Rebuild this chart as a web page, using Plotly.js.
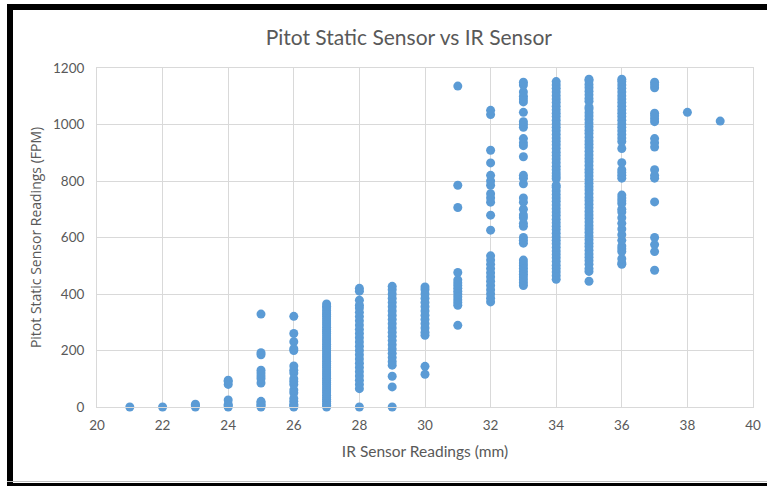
<!DOCTYPE html>
<html>
<head>
<meta charset="utf-8">
<script src="https://cdn.plot.ly/plotly-3.0.1.min.js"></script>
<style>
  html, body { margin: 0; padding: 0; background: #ffffff; }
  #wrap { position: relative; width: 767px; height: 486px; overflow: hidden; }
  #chart { position: absolute; left: 0; top: 0; width: 767px; height: 486px; }
  .bar { position: absolute; background: #000; pointer-events: none; }
</style>
</head>
<body>
<div id="wrap">
  <div id="chart"></div>
  <div class="bar" style="left:7px; top:4px; width:760px; height:6px;"></div>
  <div class="bar" style="left:7px; top:4px; width:6px; height:482px;"></div>
  <div class="bar" style="left:7px; top:481px; width:760px; height:1px; background:#bdbdbd;"></div>
  <div class="bar" style="left:7px; top:483px; width:760px; height:3px;"></div>
</div>
<script>
// IR sensor readings (mm) with the Pitot static readings (FPM) observed at each
const irReadings = [21, 22, 23, 24, 25, 26, 27, 28, 29, 30, 31, 32, 33, 34, 35, 36, 37, 38, 39];

const pitot21 = [0];
const pitot22 = [0];
const pitot23 = [0, 5, 10];
const pitot24 = [0, 5, 10, 25, 80, 90, 95];
const pitot25 = [0, 5, 10, 15, 20, 85, 100, 110, 120, 130, 185, 192, 329];
const pitot26 = [0, 5, 10, 20, 30, 50, 60, 80, 90, 100, 120, 130, 145, 200, 206, 231, 260, 321];
const pitot27 = [0, 6, 12, 20, 27, 34, 42, 50, 57, 64, 72, 80, 87, 94, 102, 110, 117, 124, 132, 140,
                 147, 154, 162, 170, 177, 184, 192, 200, 207, 214, 222, 230, 237, 244, 252, 260, 267,
                 274, 282, 290, 297, 304, 312, 320, 327, 334, 342, 350, 357, 365];
const pitot28 = [0, 65, 80, 95, 110, 125, 140, 155, 170, 185, 200, 215, 230, 245, 260, 275, 290, 305,
                 320, 335, 350, 360, 378, 410, 420];
const pitot29 = [0, 71, 109, 148, 160, 175, 190, 205, 220, 235, 250, 265, 280, 295, 310, 325, 340, 355,
                 370, 385, 400, 415, 427];
const pitot30 = [116, 144, 254, 265, 280, 295, 310, 325, 340, 355, 370, 385, 400, 415, 425];
const pitot31 = [289, 360, 370, 380, 390, 400, 410, 420, 430, 440, 450, 476, 706, 785, 1136];
const pitot32 = [372, 385, 400, 415, 430, 445, 460, 475, 490, 505, 520, 535, 626, 679, 725, 740, 755,
                 785, 800, 820, 864, 909, 1035, 1050];
const pitot33 = [430, 440, 450, 460, 470, 480, 490, 500, 510, 520, 580, 590, 600, 640, 650, 670, 680,
                 700, 725, 740, 790, 810, 820, 886, 925, 935, 950, 990, 1000, 1010, 1043, 1080, 1090,
                 1100, 1115, 1140, 1150];
const pitot34 = [452, 465, 478, 490, 502, 515, 528, 540, 552, 565, 578, 590, 602, 615, 628, 640, 652,
                 665, 678, 690, 702, 715, 728, 740, 752, 765, 778, 785, 808, 818, 828, 840, 852, 865,
                 878, 890, 902, 915, 928, 940, 952, 965, 978, 990, 1002, 1015, 1028, 1040, 1052, 1065,
                 1078, 1090, 1102, 1115, 1128, 1140, 1152];
const pitot35 = [445, 480, 490, 505, 518, 530, 542, 555, 568, 580, 592, 605, 618, 630, 642, 655, 668,
                 680, 692, 705, 718, 730, 742, 755, 768, 780, 792, 805, 818, 830, 842, 855, 868, 880,
                 892, 905, 918, 930, 942, 955, 968, 980, 992, 1005, 1018, 1030, 1042, 1055, 1062, 1082,
                 1092, 1105, 1118, 1130, 1142, 1155, 1160];
const pitot36 = [505, 510, 525, 550, 560, 570, 590, 610, 630, 650, 670, 690, 700, 720, 730, 740, 750,
                 810, 820, 830, 840, 865, 915, 940, 952, 965, 978, 990, 1002, 1015, 1028, 1040, 1052,
                 1065, 1078, 1090, 1102, 1115, 1128, 1140, 1152, 1160];
const pitot37 = [484, 550, 575, 600, 726, 810, 820, 840, 920, 935, 950, 1010, 1020, 1030, 1040, 1130,
                 1140, 1150];
const pitot38 = [1043];
const pitot39 = [1012];

const pitotColumns = [pitot21, pitot22, pitot23, pitot24, pitot25, pitot26, pitot27, pitot28, pitot29,
                      pitot30, pitot31, pitot32, pitot33, pitot34, pitot35, pitot36, pitot37, pitot38, pitot39];

const xTickVals = [20, 22, 24, 26, 28, 30, 32, 34, 36, 38, 40];
const yTickVals = [0, 200, 400, 600, 800, 1000, 1200];

const xs = [], ys = [];
irReadings.forEach((ir, i) => {
  pitotColumns[i].forEach(v => { xs.push(ir); ys.push(v); });
});

const trace = {
  type: 'scatter',
  mode: 'markers',
  x: xs,
  y: ys,
  cliponaxis: false,
  marker: { color: '#5B9BD5', size: 9, line: { width: 0 } },
  hoverinfo: 'x+y'
};

const tickFont = { family: 'Lato, "Open Sans", sans-serif', size: 13.5, color: '#595959' };

const layout = {
  width: 767,
  height: 486,
  paper_bgcolor: '#ffffff',
  plot_bgcolor: '#ffffff',
  margin: { l: 97, r: 14, t: 68, b: 79 },
  showlegend: false,
  title: {
    text: 'Pitot Static Sensor vs IR Sensor',
    font: { family: 'Lato, "Open Sans", sans-serif', size: 21, color: '#595959' },
    x: 0.533, xref: 'container', xanchor: 'center',
    y: 0.922, yref: 'container', yanchor: 'middle'
  },
  xaxis: {
    range: [20, 40],
    tickmode: 'array',
    tickvals: xTickVals,
    ticktext: xTickVals.map(String),
    showgrid: true,
    gridcolor: '#D9D9D9',
    gridwidth: 1,
    zeroline: false,
    showline: true,
    linecolor: '#D9D9D9',
    linewidth: 1,
    mirror: true,
    ticks: '',
    ticklabelstandoff: 6,
    tickfont: tickFont,
    title: {
      text: 'IR Sensor Readings (mm)',
      font: { family: 'Lato, "Open Sans", sans-serif', size: 15.5, color: '#595959' },
      standoff: 13
    }
  },
  yaxis: {
    range: [0, 1200],
    tickmode: 'array',
    tickvals: yTickVals,
    ticktext: yTickVals.map(String),
    showgrid: true,
    gridcolor: '#D9D9D9',
    gridwidth: 1,
    zeroline: false,
    showline: true,
    linecolor: '#D9D9D9',
    linewidth: 1,
    mirror: true,
    ticks: '',
    ticklabelstandoff: 9,
    tickfont: tickFont,
    title: {
      text: 'Pitot Static Sensor Readings (FPM)',
      font: { family: '"Open Sans", sans-serif', size: 14, color: '#595959' },
      standoff: 8
    }
  }
};

Plotly.newPlot('chart', [trace], layout, { displayModeBar: false, staticPlot: true });
</script>
</body>
</html>
